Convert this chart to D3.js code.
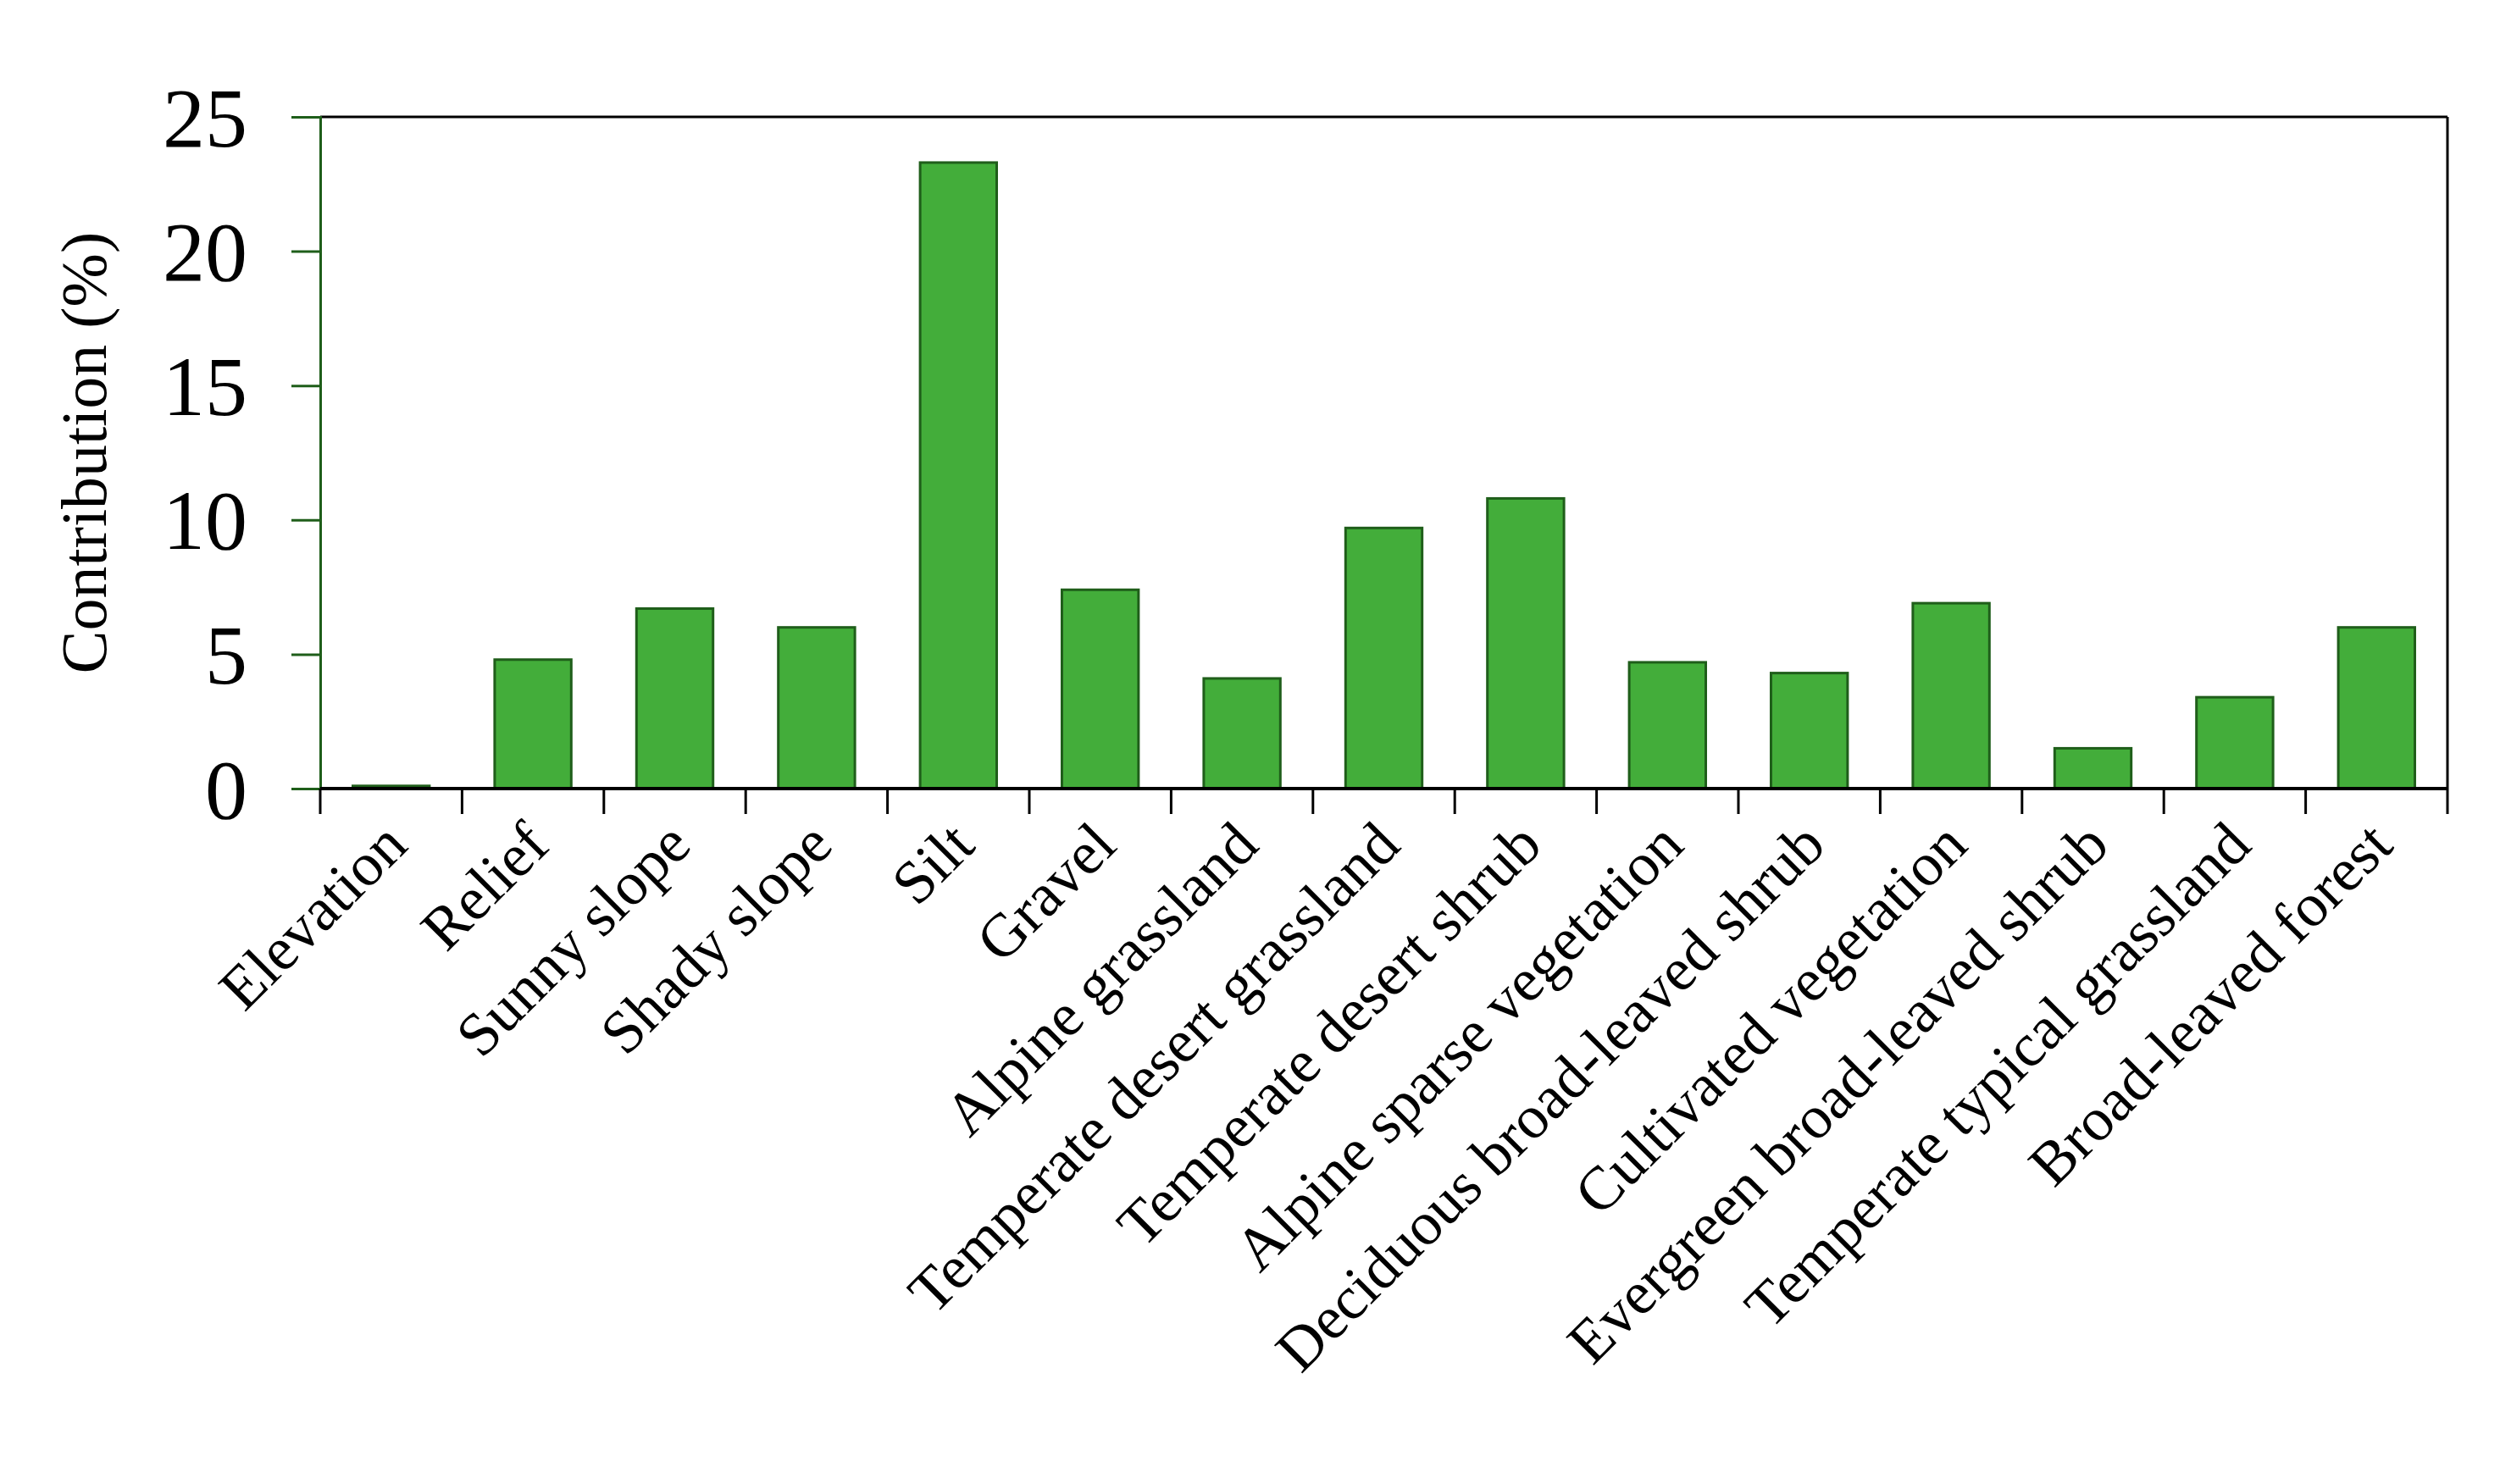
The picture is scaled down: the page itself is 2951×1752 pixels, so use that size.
<!DOCTYPE html>
<html>
<head>
<meta charset="utf-8">
<script src="https://cdn.jsdelivr.net/npm/d3@7"></script>
<style>
body { margin: 0; background: #fff; }
text { font-family: "Liberation Serif", "Times New Roman", serif; }
</style>
</head>
<body>
<svg id="chart" width="2951" height="1752"></svg>
<script>
var categories = ["Elevation", "Relief", "Sunny slope", "Shady slope", "Silt", "Gravel",
    "Alpine grassland", "Temperate desert grassland", "Temperate desert shrub",
    "Alpine sparse vegetation", "Deciduous broad-leaved shrub", "Cultivated vegetation",
    "Evergreen broad-leaved shrub", "Temperate typical grassland", "Broad-leaved forest"];
var values = [0.1, 4.8, 6.7, 6.0, 23.3, 7.4, 4.1, 9.7, 10.8, 4.7, 4.3, 6.9, 1.5, 3.4, 6.0];
var yTicks = [0, 5, 10, 15, 20, 25];

var mLeft = 378, mRight = 2889, mTop = 138, mBottom = 931;
var svg = d3.select("#chart");

var x = d3.scaleBand().domain(categories).range([mLeft, mRight]).paddingInner(0.46).paddingOuter(0.23);
var y = d3.scaleLinear().domain([0, 25]).range([mBottom, mTop]);

// frame top and right
svg.append("line").attr("x1", mLeft).attr("x2", mRight).attr("y1", mTop).attr("y2", mTop)
    .attr("stroke", "#000").attr("stroke-width", 3);
svg.append("line").attr("x1", mRight).attr("x2", mRight).attr("y1", mTop).attr("y2", mBottom)
    .attr("stroke", "#000").attr("stroke-width", 3);

svg.selectAll("rect.bar").data(values).enter().append("rect")
    .attr("class", "bar")
    .attr("x", function(d, i) { return x(categories[i]); })
    .attr("width", x.bandwidth())
    .attr("y", function(d) { return y(d); })
    .attr("height", function(d) { return mBottom - y(d); })
    .attr("fill", "#43ad3a")
    .attr("stroke", "#1f5e1a")
    .attr("stroke-width", 3);

// y axis
var ya = svg.append("g").attr("transform", "translate(" + mLeft + ",0)")
    .call(d3.axisLeft(y).tickValues(yTicks).tickSize(34).tickPadding(52));
ya.select(".domain").attr("stroke", "#1f5e1a").attr("stroke-width", 3);
ya.selectAll(".tick line").attr("stroke", "#1f5e1a").attr("stroke-width", 3);
ya.selectAll(".tick text").attr("font-size", 100).attr("fill", "#000")
    .attr("font-family", "Liberation Serif").attr("dy", "0.34em");

// x axis with ticks at band edges
var xa = svg.append("g").attr("transform", "translate(0," + mBottom + ")");
xa.append("line").attr("x1", mLeft).attr("x2", mRight).attr("stroke", "#000").attr("stroke-width", 4);
var edges = d3.range(categories.length + 1).map(function(i) { return mLeft + i * (mRight - mLeft) / categories.length; });
xa.selectAll("line.tk").data(edges).enter().append("line").attr("class", "tk")
    .attr("x1", function(d) { return d; }).attr("x2", function(d) { return d; })
    .attr("y1", 0).attr("y2", 30).attr("stroke", "#000").attr("stroke-width", 3);
xa.selectAll("text.lab").data(categories).enter().append("text").attr("class", "lab")
    .attr("transform", function(d) {
        return "translate(" + (x(d) + x.bandwidth() / 2 + 22) + ",70) rotate(-45)";
    })
    .attr("text-anchor", "end")
    .attr("font-size", 72)
    .text(function(d) { return d; });

svg.append("text")
    .attr("transform", "translate(125," + ((mTop + mBottom) / 2) + ") rotate(-90)")
    .attr("text-anchor", "middle")
    .attr("font-size", 76)
    .text("Contribution (%)");
</script>
</body>
</html>
